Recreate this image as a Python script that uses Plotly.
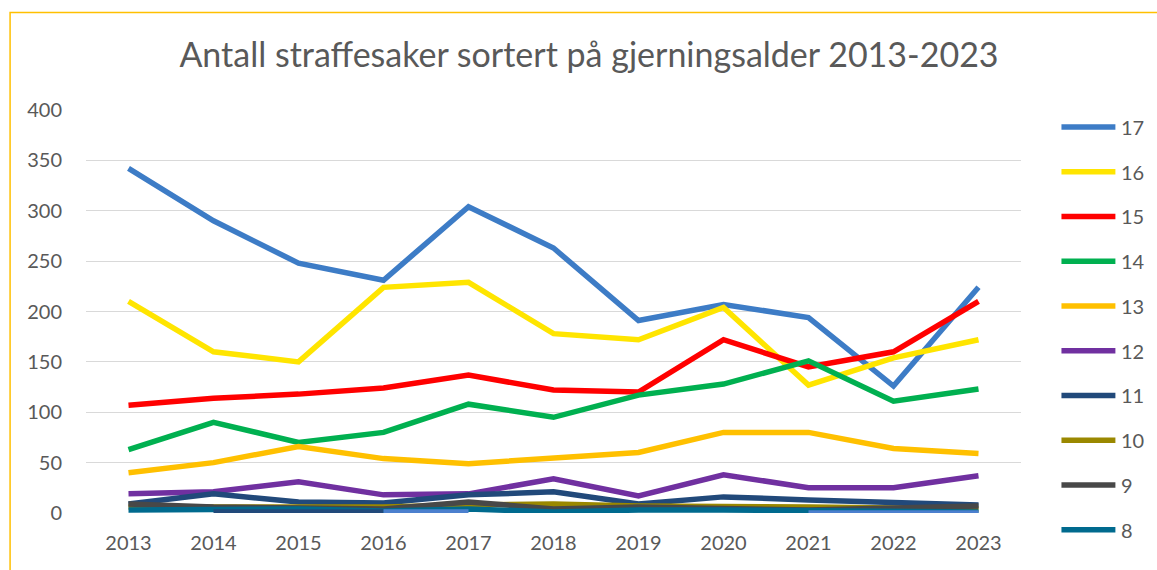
import plotly.graph_objects as go

years = [2013, 2014, 2015, 2016, 2017, 2018, 2019, 2020, 2021, 2022, 2023]
ages = ["17", "16", "15", "14", "13", "12", "11", "10", "9", "8"]
age17 = [342, 290, 248, 231, 304, 263, 191, 207, 194, 126, 224]
age16 = [210, 160, 150, 224, 229, 178, 172, 204, 127, 154, 172]
age15 = [107, 114, 118, 124, 137, 122, 120, 172, 145, 160, 210]
age14 = [63, 90, 70, 80, 108, 95, 117, 128, 151, 111, 123]
age13 = [40, 50, 66, 54, 49, 54, 60, 80, 80, 64, 59]
age12 = [19, 21, 31, 18, 19, 34, 17, 38, 25, 25, 37]
age11 = [9, 19, 11, 10, 18, 21, 9, 16, 13, 10, 8]
age10 = [6, 6, 6, 6, 8, 9, 7, 7, 6, 5, 4]
age9 = [9, 6, 5, 4, 11, 4, 6, 4, 3, 5, 7]
age8 = [3, 3, 4, 2, 4, 1, 3, 3, 2, 1, 1]
# extra series visible in the plot but not in the (cropped) legend
extra_a = [None, 1, 1, 1, None, None, None, None, None, None, None]
extra_b = [None, None, None, 1, 1, None, None, None, 0, 0, 0]

series = [age17, age16, age15, age14, age13, age12, age11, age10, age9, age8]
colors = ["#3D7CC6", "#FFE500", "#FF0000", "#00B050", "#FFC000",
          "#7030A0", "#21497A", "#9A8800", "#484848", "#006A8E"]
extra_colors = ["#21497A", "#4C80CE"]

FONT = "Lato"
GREY = "#595959"

# layout pixel geometry
W, H = 1157, 570
PL, PR, PT, PB = 85.5, 1021.5, 110, 513.5

def px_x(p):
    return (p - PL) / (PR - PL)

def px_y(p):
    return (PB - p) / (PB - PT)

fig = go.Figure()
for name, vals, col in zip(ages, series, colors):
    fig.add_trace(go.Scatter(x=years, y=vals, name=name, mode="lines",
                             line=dict(color=col, width=5.5),
                             showlegend=False, hoverinfo="x+y+name"))
for vals, col in zip([extra_a, extra_b], extra_colors):
    fig.add_trace(go.Scatter(x=years, y=vals, mode="lines",
                             line=dict(color=col, width=5.5),
                             showlegend=False, connectgaps=False))

shapes = []
annotations = []
# manual legend
for i, (name, col) in enumerate(zip(ages, colors)):
    yp = 127 + 44.8 * i
    shapes.append(dict(type="line", xref="paper", yref="paper",
                       x0=px_x(1062), x1=px_x(1116), y0=px_y(yp), y1=px_y(yp),
                       line=dict(color=col, width=5.5)))
    annotations.append(dict(xref="paper", yref="paper", x=px_x(1120), y=px_y(yp),
                            text=name, showarrow=False, xanchor="left", yanchor="middle",
                            font=dict(family=FONT, size=20, color=GREY)))
# chart frame (yellow border, cropped at right/bottom)
shapes.append(dict(type="rect", xref="paper", yref="paper",
                   x0=px_x(9.5), x1=px_x(1200), y0=px_y(700), y1=px_y(12.5),
                   line=dict(color="#FFC000", width=1.5), layer="below"))

fig.update_layout(
    width=W, height=H,
    margin=dict(l=PL, r=W - PR, t=PT, b=H - PB),
    paper_bgcolor="white", plot_bgcolor="white",
    title=dict(text="Antall straffesaker sortert på gjerningsalder 2013-2023",
               x=589 / W, xanchor="center", xref="container",
               y=1 - 55 / H, yanchor="middle", yref="container",
               font=dict(family=FONT, size=34, color=GREY)),
    xaxis=dict(range=[2012.5, 2023.5], tickmode="array", tickvals=years,
               ticktext=[str(y) for y in years], showgrid=False, zeroline=False,
               showline=False, ticks="", ticklabelstandoff=16,
               tickfont=dict(family=FONT, size=20, color=GREY)),
    yaxis=dict(range=[0, 400], dtick=50, showgrid=True, gridcolor="#D9D9D9",
               gridwidth=1.3, zeroline=False, showline=False, ticks="",
               ticklabelstandoff=23,
               tickfont=dict(family=FONT, size=20, color=GREY)),
    shapes=shapes, annotations=annotations, showlegend=False,
)
fig.write_html("out.html", config={"displayModeBar": False},
               post_script="document.body.style.margin='0';document.body.style.overflow='hidden';")
